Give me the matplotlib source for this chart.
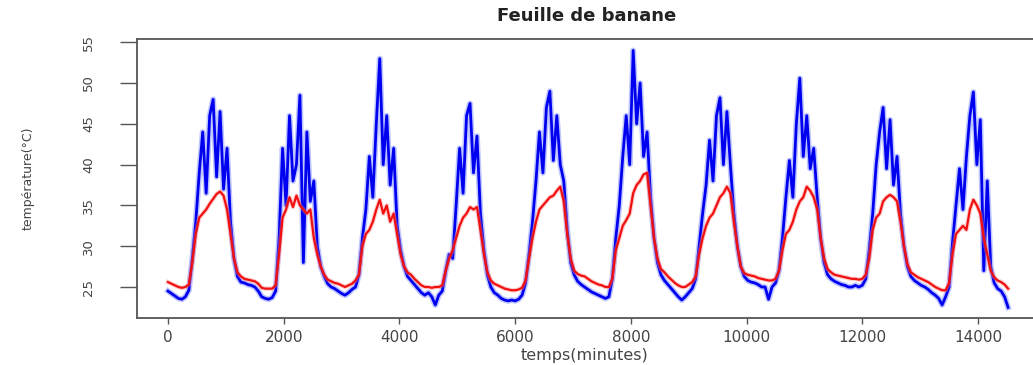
import numpy as np
import matplotlib
matplotlib.use("Agg")
import matplotlib.pyplot as plt

# time axis (minutes), hourly readings
minutes = np.arange(0, 14521, 60)

# leaf temperature (blue) and air temperature (red), read hour by hour
feuille = [
    # day 1 (0-1380)
    24.5, 24.2, 23.9, 23.6, 23.5, 23.8, 24.6, 28.5, 33.0, 39.0, 44.0, 36.5,
    46.0, 48.0, 38.5, 46.5, 37.0, 42.0, 33.0, 28.5, 26.3, 25.6, 25.5, 25.3,
    # day 2 (1440-2820)
    25.2, 25.0, 24.5, 23.8, 23.6, 23.5, 23.7, 24.5, 31.0, 42.0, 35.0, 46.0,
    38.0, 40.0, 48.5, 28.0, 44.0, 35.5, 38.0, 30.0, 27.5, 26.3, 25.4, 25.0,
    # day 3 (2880-4260)
    24.8, 24.5, 24.2, 24.0, 24.3, 24.7, 25.0, 26.5, 31.0, 34.5, 41.0, 36.0,
    45.0, 53.0, 40.0, 46.0, 37.5, 42.0, 32.5, 29.5, 27.5, 26.3, 25.8, 25.3,
    # day 4 (4320-5700)
    24.8, 24.3, 24.0, 24.3, 23.8, 22.8, 24.0, 24.5, 27.0, 29.0, 28.5, 35.0,
    42.0, 36.5, 46.0, 47.5, 39.0, 43.5, 34.0, 29.5, 26.5, 25.0, 24.3, 24.0,
    # day 5 (5760-7140)
    23.6, 23.4, 23.3, 23.4, 23.3, 23.5, 24.0, 25.5, 29.0, 33.0, 38.0, 44.0,
    39.0, 47.0, 49.0, 40.5, 46.0, 40.0, 38.0, 32.0, 28.0, 26.5, 25.7, 25.3,
    # day 6 (7200-8580)
    25.0, 24.7, 24.4, 24.2, 24.0, 23.8, 23.6, 23.8, 26.0, 31.0, 35.0, 41.0,
    46.0, 40.0, 54.0, 45.0, 50.0, 41.0, 44.0, 36.0, 31.0, 28.0, 26.5, 25.8,
    # day 7 (8640-10020)
    25.3, 24.8, 24.3, 23.8, 23.4, 23.8, 24.3, 24.8, 26.0, 30.0, 34.0, 37.5,
    43.0, 38.0, 46.0, 48.2, 40.0, 46.5, 40.0, 34.0, 30.0, 27.5, 26.3, 25.8,
    # day 8 (10080-11460)
    25.6, 25.5, 25.3, 25.0, 25.0, 23.5, 25.0, 25.5, 27.0, 31.0, 36.0, 40.5,
    36.0, 45.0, 50.6, 41.0, 46.0, 39.5, 42.0, 36.0, 31.0, 28.0, 26.5, 26.0,
    # day 9 (11520-12900)
    25.7, 25.5, 25.3, 25.2, 25.0, 25.0, 25.2, 25.0, 25.2, 26.0, 29.5, 34.0,
    40.0, 44.0, 47.0, 39.5, 45.5, 37.5, 41.0, 34.0, 30.0, 27.5, 26.3, 25.8,
    # day 10 (12960-14340) + end
    25.5, 25.2, 25.0, 24.7, 24.3, 24.0, 23.6, 22.8, 23.8, 25.0, 30.5, 35.0,
    39.5, 34.5, 41.0, 46.0, 48.9, 40.0, 45.5, 27.0, 38.0, 27.5, 25.5, 24.8,
    24.5, 23.8, 22.5,
]

air = [
    # day 1
    25.6, 25.4, 25.2, 25.0, 24.9, 25.0, 25.3, 28.0, 31.5, 33.5, 34.0, 34.5,
    35.2, 35.8, 36.4, 36.7, 36.2, 34.5, 31.5, 28.5, 26.8, 26.3, 26.0, 25.9,
    # day 2
    25.8, 25.7, 25.4, 24.9, 24.8, 24.8, 24.8, 25.2, 29.0, 33.5, 34.5, 36.0,
    34.8, 36.2, 35.0, 34.5, 34.0, 34.5, 31.0, 29.0, 27.5, 26.5, 25.9, 25.7,
    # day 3
    25.5, 25.4, 25.2, 25.0, 25.2, 25.4, 25.8, 26.5, 30.0, 31.5, 32.0, 33.0,
    34.5, 35.7, 34.0, 35.0, 33.0, 34.0, 31.5, 29.0, 27.5, 26.8, 26.5, 26.0,
    # day 4
    25.6, 25.2, 25.0, 25.0, 24.9, 25.0, 25.0, 25.2, 27.0, 28.5, 29.5, 31.0,
    32.5, 33.5, 34.0, 34.8, 34.5, 34.8, 32.0, 29.0, 26.8, 25.8, 25.4, 25.2,
    # day 5
    25.0, 24.8, 24.7, 24.6, 24.6, 24.7, 24.9, 25.8, 28.5, 31.0, 33.0, 34.5,
    35.0, 35.5, 36.0, 36.2, 36.8, 37.3, 35.5, 31.5, 28.5, 27.0, 26.6, 26.4,
    # day 6
    26.3, 26.0, 25.7, 25.5, 25.3, 25.2, 25.0, 25.0, 26.0, 29.5, 31.0, 32.5,
    33.2, 34.0, 36.5, 37.5, 38.0, 38.8, 39.0, 35.0, 31.0, 28.5, 27.2, 26.8,
    # day 7
    26.3, 25.9, 25.5, 25.2, 25.0, 25.0, 25.3, 25.6, 26.3, 29.0, 31.0, 32.5,
    33.5, 34.0, 35.0, 36.0, 36.5, 37.3, 36.5, 33.0, 30.0, 27.5, 26.7, 26.5,
    # day 8
    26.4, 26.3, 26.1, 26.0, 25.9, 25.8, 25.8, 26.0, 27.0, 29.5, 31.5, 32.0,
    33.0, 34.5, 35.5, 36.0, 37.3, 36.8, 36.0, 34.5, 31.0, 28.5, 27.2, 26.8,
    # day 9
    26.5, 26.4, 26.3, 26.2, 26.1, 26.0, 26.0, 25.9, 26.0, 26.5, 28.5, 32.0,
    33.5, 34.0, 35.5, 36.0, 36.3, 36.0, 35.5, 33.0, 30.0, 27.8, 26.8, 26.5,
    # day 10 + end
    26.2, 26.0, 25.8, 25.6, 25.3, 25.0, 24.8, 24.6, 24.6, 25.5, 29.0, 31.5,
    32.0, 32.5, 32.0, 34.5, 35.7, 35.0, 34.0, 31.0, 29.0, 27.0, 26.2, 25.8,
    25.6, 25.3, 24.8,
]

titre = "Feuille de banane"
xlabel = "temps(minutes)"
ylabel = "température(°C)"
xticks = [0, 2000, 4000, 6000, 8000, 10000, 12000, 14000]
yticks = [25, 30, 35, 40, 45, 50, 55]

W, H = 1033, 365
fig = plt.figure(figsize=(W / 100, H / 100), dpi=100)
left_px, right_px, top_px, bot_px = 137, 1041.7, 39, 318
ax = fig.add_axes([left_px / W, 1 - bot_px / H,
                   (right_px - left_px) / W, (bot_px - top_px) / H])

# soft halo (blurred look of the original) then the lines themselves
ax.plot(minutes, feuille, color="#7080ff", lw=4.2, alpha=0.45)
ax.plot(minutes, feuille, color="#0000f0", lw=2.0)
ax.plot(minutes, air, color="#ff8080", lw=3.2, alpha=0.4)
ax.plot(minutes, air, color="#f01010", lw=1.6)

ax.set_xlim(-536, 15101)
ax.set_ylim(21.2, 55.4)
ax.set_xticks(xticks)
ax.set_xticklabels([str(v) for v in xticks])
ax.set_yticks(yticks)
ax.set_yticklabels([str(v) for v in yticks], rotation=90, va="center")

grey = "#555555"
for s in ["left", "bottom", "top"]:
    ax.spines[s].set_color(grey)
    ax.spines[s].set_linewidth(1.3)
ax.spines["right"].set_visible(False)

ax.tick_params(axis="x", length=4.5, width=1.0, color=grey, pad=4,
               labelsize=11, labelcolor="#444444")
ax.tick_params(axis="y", length=12, width=1.0, color=grey, pad=18,
               labelsize=9.5, labelcolor="#444444")

fig.text(587 / W, 1 - 16 / H, titre, fontsize=13, fontweight="bold",
         color="#222222", ha="center", va="center")
ax.set_xlabel(xlabel, fontsize=11.5, color="#444444")
ax.xaxis.set_label_coords(0.495, -0.136)
ax.xaxis.label.set_va("center")
ax.set_ylabel(ylabel, fontsize=9, color="#444444",
              family=["Liberation Sans Narrow", "DejaVu Sans"])
ax.yaxis.set_label_coords(-0.1205, 0.5)
ax.yaxis.label.set_va("center")

fig.savefig("out.png", dpi=100, facecolor="white")
